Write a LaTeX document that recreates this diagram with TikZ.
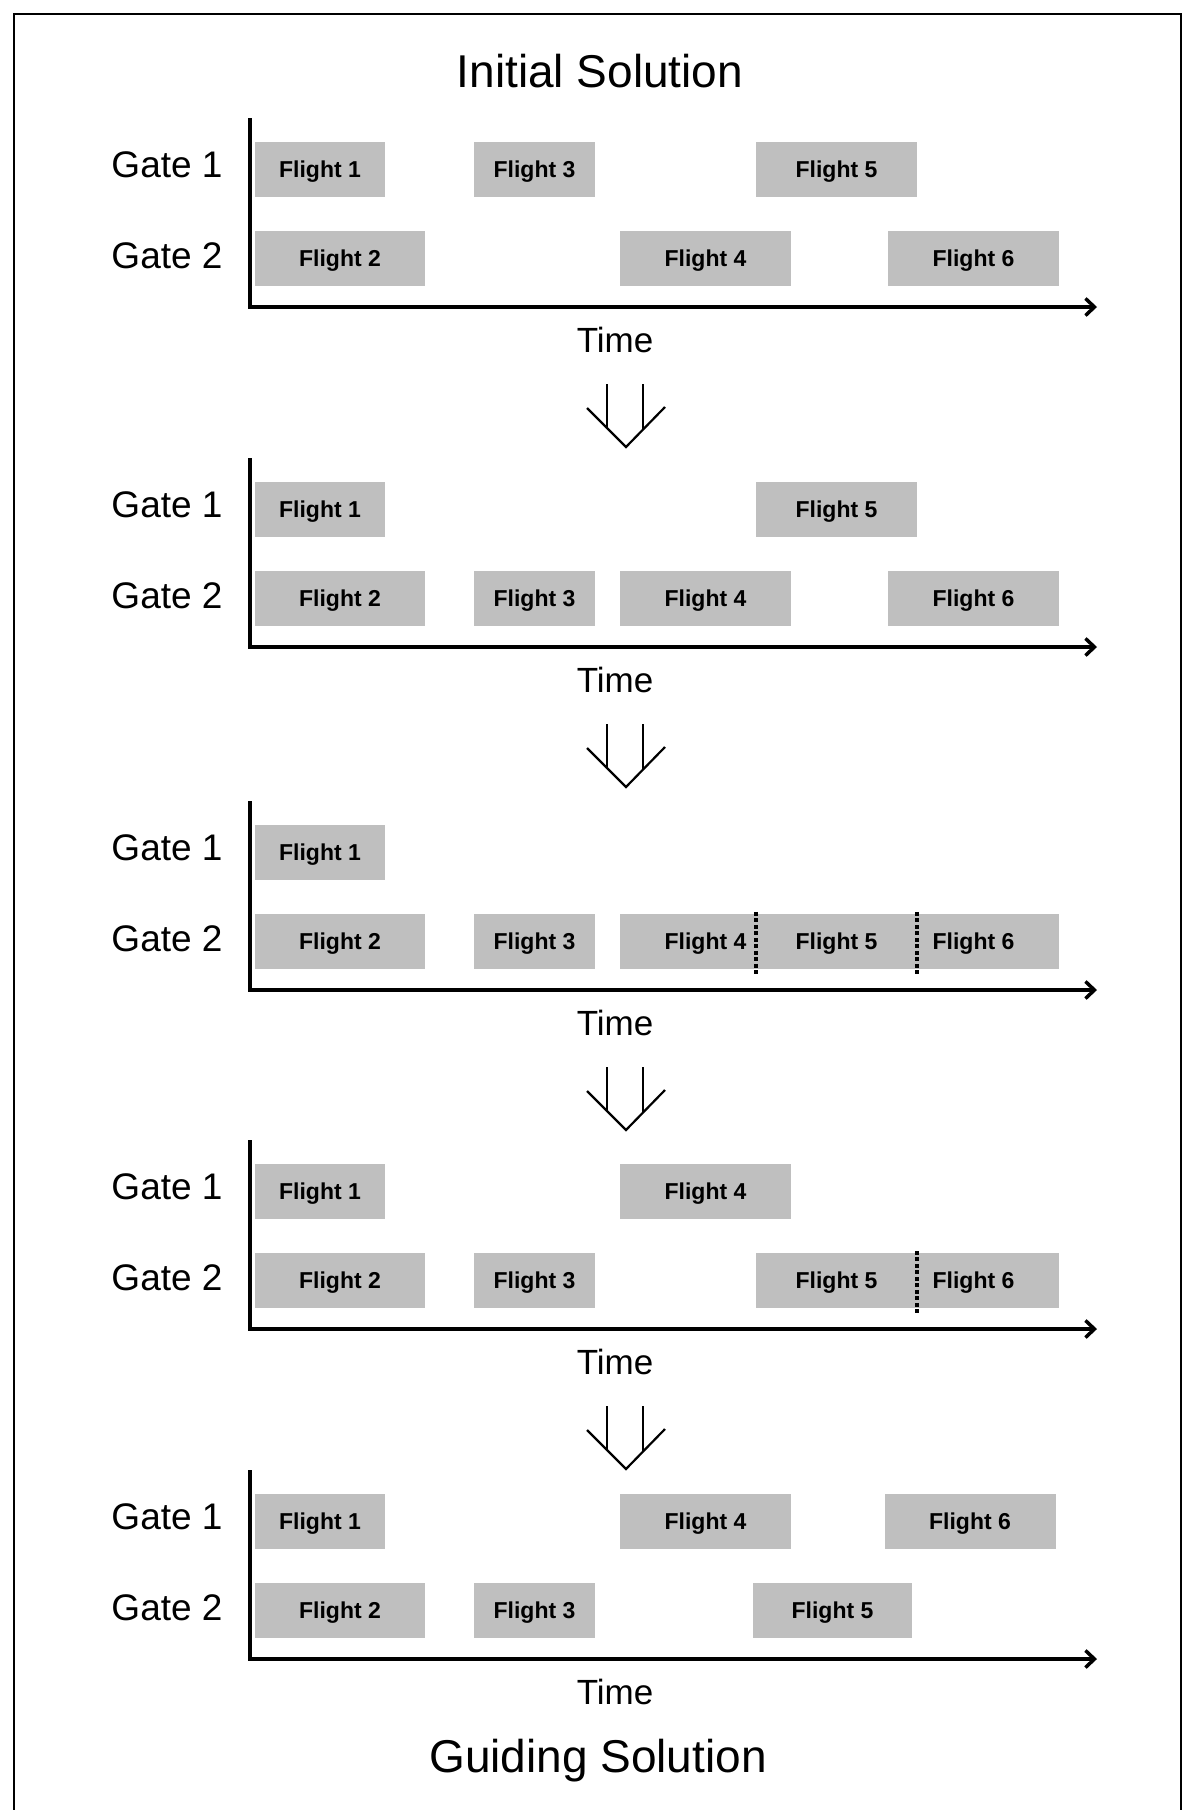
\documentclass[tikz,border=0pt]{standalone}
\usepackage{fontspec}
\setmainfont{Liberation Sans}
\usetikzlibrary{arrows.meta}

\begin{document}
\begin{tikzpicture}[x=1pt, y=-1pt, line cap=butt,
		flight/.style={fill=black!25, inner sep=0pt, minimum height=55pt,
			text height=16.5pt, text depth=0pt, font=\fontsize{23}{26}\selectfont\bfseries},
		gate/.style={anchor=base, font=\fontsize{37}{42}\selectfont},
		timelabel/.style={anchor=base, font=\fontsize{35}{40}\selectfont},
		heading/.style={anchor=base, font=\fontsize{46}{52}\selectfont},
		axis/.style={line width=3.5pt, -{Straight Barb[length=9pt,width=17pt]}},
		sep/.style={line width=4pt, dash pattern=on 4pt off 2.5pt},
		nextstep/.style={line width=2.2pt}]
	\useasboundingbox (0,0) rectangle (1189,1810);
	
	% Outer frame (bottom edge runs off the page)
	\draw[line width=2.5pt] (14,1830) -- (14,14) -- (1181,14) -- (1181,1830);
	
	% Headings
	\node[heading] (start) at (600,87) {Initial Solution};
	\node[heading] (guide) at (598,1772) {Guiding Solution};
	
	% Panel 1: initial assignment
	\begin{scope}[shift={(0,307)}]
		\coordinate (o1) at (250,0);
		\draw[axis] (250,-189) -- (o1) -- (1097,0);
		\node[gate] (g11) at (167,-130) {Gate 1};
		\node[gate] (g12) at (167,-39) {Gate 2};
		\node[flight, minimum width=130pt] (p1f1) at (320,-137.5) {Flight 1};
		\node[flight, minimum width=121pt] (p1f3) at (534.5,-137.5) {Flight 3};
		\node[flight, minimum width=161pt] (p1f5) at (836.5,-137.5) {Flight 5};
		\node[flight, minimum width=170pt] (p1f2) at (340,-48.5) {Flight 2};
		\node[flight, minimum width=171pt] (p1f4) at (705.5,-48.5) {Flight 4};
		\node[flight, minimum width=171pt] (p1f6) at (973.5,-48.5) {Flight 6};
		\node[timelabel] (t1) at (615,45) {Time};
		% step arrow
		\coordinate (s1) at (626,140);
		\draw[nextstep] (587,101) -- (s1) -- (665,100);
		\draw[nextstep] (607,77) -- (607,121);
		\draw[nextstep] (643,77) -- (643,122.5);
	\end{scope}
	
	% Panel 2: flight 3 moved to gate 2
	\begin{scope}[shift={(0,647)}]
		\coordinate (o2) at (250,0);
		\draw[axis] (250,-189) -- (o2) -- (1097,0);
		\node[gate] (g21) at (167,-130) {Gate 1};
		\node[gate] (g22) at (167,-39) {Gate 2};
		\node[flight, minimum width=130pt] (p2f1) at (320,-137.5) {Flight 1};
		\node[flight, minimum width=161pt] (p2f5) at (836.5,-137.5) {Flight 5};
		\node[flight, minimum width=170pt] (p2f2) at (340,-48.5) {Flight 2};
		\node[flight, minimum width=121pt] (p2f3) at (534.5,-48.5) {Flight 3};
		\node[flight, minimum width=171pt] (p2f4) at (705.5,-48.5) {Flight 4};
		\node[flight, minimum width=171pt] (p2f6) at (973.5,-48.5) {Flight 6};
		\node[timelabel] (t2) at (615,45) {Time};
		% step arrow
		\coordinate (s2) at (626,140);
		\draw[nextstep] (587,101) -- (s2) -- (665,100);
		\draw[nextstep] (607,77) -- (607,121);
		\draw[nextstep] (643,77) -- (643,122.5);
	\end{scope}
	
	% Panel 3: flight 5 squeezed in on gate 2
	\begin{scope}[shift={(0,990)}]
		\coordinate (o3) at (250,0);
		\draw[axis] (250,-189) -- (o3) -- (1097,0);
		\node[gate] (g31) at (167,-130) {Gate 1};
		\node[gate] (g32) at (167,-39) {Gate 2};
		\node[flight, minimum width=130pt] (p3f1) at (320,-137.5) {Flight 1};
		\node[flight, minimum width=170pt] (p3f2) at (340,-48.5) {Flight 2};
		\node[flight, minimum width=121pt] (p3f3) at (534.5,-48.5) {Flight 3};
		\node[flight, minimum width=171pt] (p3f4) at (705.5,-48.5) {Flight 4};
		\node[flight, minimum width=161pt] (p3f5) at (836.5,-48.5) {Flight 5};
		\node[flight, minimum width=171pt] (p3f6) at (973.5,-48.5) {Flight 6};
		\draw[sep] ([yshift=2pt]p3f5.north west) -- ([yshift=-5pt]p3f5.south west);
		\draw[sep] ([yshift=2pt]p3f5.north east) -- ([yshift=-5pt]p3f5.south east);
		\node[timelabel] (t3) at (615,45) {Time};
		% step arrow
		\coordinate (s3) at (626,140);
		\draw[nextstep] (587,101) -- (s3) -- (665,100);
		\draw[nextstep] (607,77) -- (607,121);
		\draw[nextstep] (643,77) -- (643,122.5);
	\end{scope}
	
	% Panel 4: flight 4 moved to gate 1
	\begin{scope}[shift={(0,1329)}]
		\coordinate (o4) at (250,0);
		\draw[axis] (250,-189) -- (o4) -- (1097,0);
		\node[gate] (g41) at (167,-130) {Gate 1};
		\node[gate] (g42) at (167,-39) {Gate 2};
		\node[flight, minimum width=130pt] (p4f1) at (320,-137.5) {Flight 1};
		\node[flight, minimum width=171pt] (p4f4) at (705.5,-137.5) {Flight 4};
		\node[flight, minimum width=170pt] (p4f2) at (340,-48.5) {Flight 2};
		\node[flight, minimum width=121pt] (p4f3) at (534.5,-48.5) {Flight 3};
		\node[flight, minimum width=161pt] (p4f5) at (836.5,-48.5) {Flight 5};
		\node[flight, minimum width=171pt] (p4f6) at (973.5,-48.5) {Flight 6};
		\draw[sep] ([yshift=2pt]p4f5.north east) -- ([yshift=-5pt]p4f5.south east);
		\node[timelabel] (t4) at (615,45) {Time};
		% step arrow
		\coordinate (s4) at (626,140);
		\draw[nextstep] (587,101) -- (s4) -- (665,100);
		\draw[nextstep] (607,77) -- (607,121);
		\draw[nextstep] (643,77) -- (643,122.5);
	\end{scope}
	
	% Panel 5: guiding solution
	\begin{scope}[shift={(0,1659)}]
		\coordinate (o5) at (250,0);
		\draw[axis] (250,-189) -- (o5) -- (1097,0);
		\node[gate] (g51) at (167,-130) {Gate 1};
		\node[gate] (g52) at (167,-39) {Gate 2};
		\node[flight, minimum width=130pt] (p5f1) at (320,-137.5) {Flight 1};
		\node[flight, minimum width=171pt] (p5f4) at (705.5,-137.5) {Flight 4};
		\node[flight, minimum width=171pt] (p5f6) at (970,-137.5) {Flight 6};
		\node[flight, minimum width=170pt] (p5f2) at (340,-48.5) {Flight 2};
		\node[flight, minimum width=121pt] (p5f3) at (534.5,-48.5) {Flight 3};
		\node[flight, minimum width=159pt] (p5f5) at (832.5,-48.5) {Flight 5};
		\node[timelabel] (t5) at (615,45) {Time};
	\end{scope}
\end{tikzpicture}
\end{document}
